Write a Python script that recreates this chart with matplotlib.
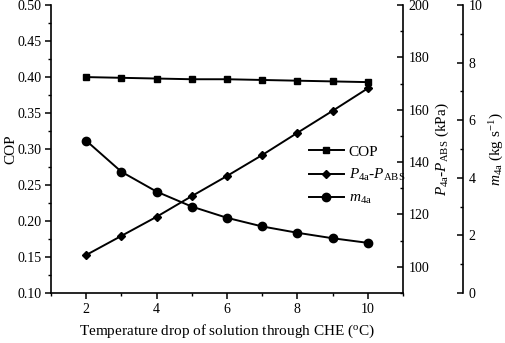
import matplotlib
matplotlib.use("Agg")
from matplotlib import pyplot as plt
from matplotlib.ticker import MultipleLocator

plt.rcParams['font.family'] = ['Liberation Serif', 'DejaVu Serif']
plt.rcParams['mathtext.fontset'] = 'custom'
plt.rcParams['mathtext.rm'] = 'Liberation Serif'
plt.rcParams['mathtext.it'] = 'Liberation Serif:italic'
plt.rcParams['font.size'] = 10

# data
temp_drop = [2, 3, 4, 5, 6, 7, 8, 9, 10]
cop = [0.400, 0.399, 0.398, 0.397, 0.397, 0.396, 0.395, 0.394, 0.393]
dp = [104.5, 111.8, 119.1, 127.0, 134.7, 142.7, 151.2, 159.6, 168.2]
m4a = [5.29, 4.21, 3.52, 3.00, 2.61, 2.31, 2.09, 1.90, 1.74]

fig = plt.figure(figsize=(5.05, 3.43), dpi=100)
ax = fig.add_axes([0.101, 0.146, 0.697, 0.839])
ax2 = ax.twinx()
ax3 = ax.twinx()

l1, = ax.plot(temp_drop, cop, color='black', lw=1.4, marker='s', ms=4.5, label='COP')
l2, = ax2.plot(temp_drop, dp, color='black', lw=1.4, marker='D', ms=4, label=r'$P_{\mathrm{4a}}$-$P_{\mathrm{ABS}}$')
l3, = ax3.plot(temp_drop, m4a, color='black', lw=1.4, marker='o', ms=6, label=r'$m_{\mathrm{4a}}$')

ax.set_xlim(1, 11)
ax.set_ylim(0.10, 0.50)
ax2.set_ylim(90, 200)
ax3.set_ylim(0, 10)

ax.xaxis.set_major_locator(MultipleLocator(2))
ax.xaxis.set_minor_locator(MultipleLocator(1))
ax.yaxis.set_major_locator(MultipleLocator(0.05))
ax.yaxis.set_minor_locator(MultipleLocator(0.025))
ax.yaxis.set_major_formatter(plt.FormatStrFormatter('%.2f'))
ax2.yaxis.set_major_locator(MultipleLocator(20))
ax2.yaxis.set_minor_locator(MultipleLocator(10))
ax3.yaxis.set_major_locator(MultipleLocator(2))
ax3.yaxis.set_minor_locator(MultipleLocator(1))

for a in (ax, ax2, ax3):
    a.spines['top'].set_visible(False)
    for s in a.spines.values():
        s.set_linewidth(1.2)
ax3.spines['right'].set_position(('axes', 1.17))
ax.spines['right'].set_visible(False)
ax3.spines['bottom'].set_visible(False)
ax2.spines['bottom'].set_visible(False)
ax3.spines['left'].set_visible(False)
ax2.spines['left'].set_visible(False)

ax.tick_params(which='major', direction='out', length=4, width=1.1, pad=3)
ax.tick_params(which='minor', direction='out', length=2.5, width=1.0)
for a in (ax2, ax3):
    a.tick_params(which='major', direction='in', length=4, width=1.1, pad=4)
    a.tick_params(which='minor', direction='in', length=2.5, width=1.0)

ax.set_xlabel(r'Temperature drop of solution through CHE ($^{\mathrm{o}}$C)', fontsize=11, labelpad=5)
ax.set_ylabel('COP', fontsize=11, labelpad=0)
ax2.set_ylabel(r'$P_{\mathrm{4a}}$-$P_{\mathrm{ABS}}$ (kPa)', fontsize=11, labelpad=3)
ax3.set_ylabel(r'$m_{\mathrm{4a}}$ (kg s$^{-1}$)', fontsize=11, labelpad=4)

ax.legend(handles=[l1, l2, l3], loc='upper left', bbox_to_anchor=(0.715, 0.535),
          frameon=False, fontsize=11, handlelength=2.3, handletextpad=0.3,
          labelspacing=0.55, borderaxespad=0)

fig.savefig('out.png', dpi=100)
